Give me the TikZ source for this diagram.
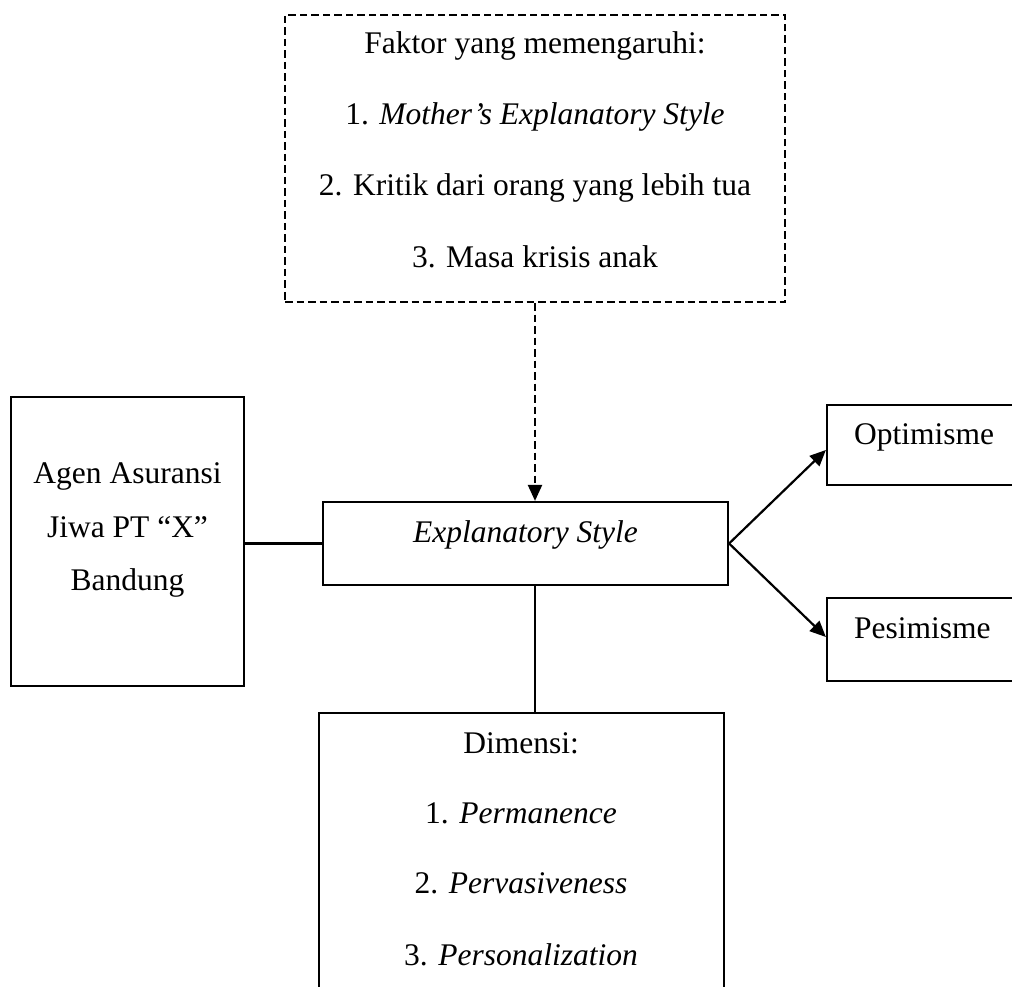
\documentclass[tikz,border=0pt]{standalone}
\usepackage{fontspec}
\setmainfont{Liberation Serif}
\usetikzlibrary{arrows.meta}
\tikzset{
  box/.style={draw, line width=2.2pt, inner sep=0pt, rectangle},
  dbox/.style={box, dash pattern=on 7.5pt off 4pt},
  txt/.style={inner sep=0pt, anchor=base, font=\fontsize{31.5}{38}\selectfont},
  conn/.style={line width=2.2pt},
  arr/.style={line width=2.2pt, -{Triangle[length=16pt,width=14pt]}},
}
\begin{document}
\begin{tikzpicture}[x=1pt,y=-1pt]
\useasboundingbox (0,0) rectangle (1012,987);
\clip (0,0) rectangle (1012,987);
\fill[white] (0,0) rectangle (1012,987);
% boxes
\node[dbox, minimum width=500pt, minimum height=287pt] (factor) at (535,158.5) {};
\node[box, minimum width=233pt, minimum height=289pt] (agen) at (127.5,541.5) {};
\node[box, minimum width=405pt, minimum height=83pt] (expl) at (525.5,543.5) {};
\node[box, minimum width=194pt, minimum height=80.5pt] (opt) at (924,445) {};
\node[box, minimum width=194pt, minimum height=83pt] (pes) at (924,639.5) {};
\node[box, minimum width=405pt, minimum height=287pt] (dim) at (521.5,856.5) {};
% texts
\node[txt] (f0) at (535,54) {Faktor yang memengaruhi:};
\node[txt] (f1) at (535,125) {1. \textit{Mother’s Explanatory Style}};
\node[txt] (f2) at (535,196) {2. Kritik dari orang yang lebih tua};
\node[txt] (f3) at (535,267) {3. Masa krisis anak};
\node[txt] (a1) at (127.5,483) {Agen Asuransi};
\node[txt] (a2) at (127.5,537) {Jiwa PT “X”};
\node[txt] (a3) at (127.5,590) {Bandung};
\node[txt] (e1) at (525.5,542) {\textit{Explanatory Style}};
\node[txt, anchor=base west] (o1) at (854,444) {Optimisme};
\node[txt, anchor=base west] (p1) at (854,638) {Pesimisme};
\node[txt] (d0) at (521,753) {Dimensi:};
\node[txt] (d1) at (521,823) {1. \textit{Permanence}};
\node[txt] (d2) at (521,893) {2. \textit{Pervasiveness}};
\node[txt] (d3) at (521,965) {3. \textit{Personalization}};
% connectors
\draw[arr, dash pattern=on 7.5pt off 4pt] (factor.south) -- (factor.south |- expl.north);
\draw[conn] (expl.west -| agen.east) -- (expl.west);
\draw[arr] (expl.east) -- ([yshift=-5pt]opt.west);
\draw[arr] (expl.east) -- ([yshift=2.5pt]pes.west);
\draw[conn] (expl.south -| factor.south) -- (dim.north -| factor.south);
\end{tikzpicture}
\end{document}
